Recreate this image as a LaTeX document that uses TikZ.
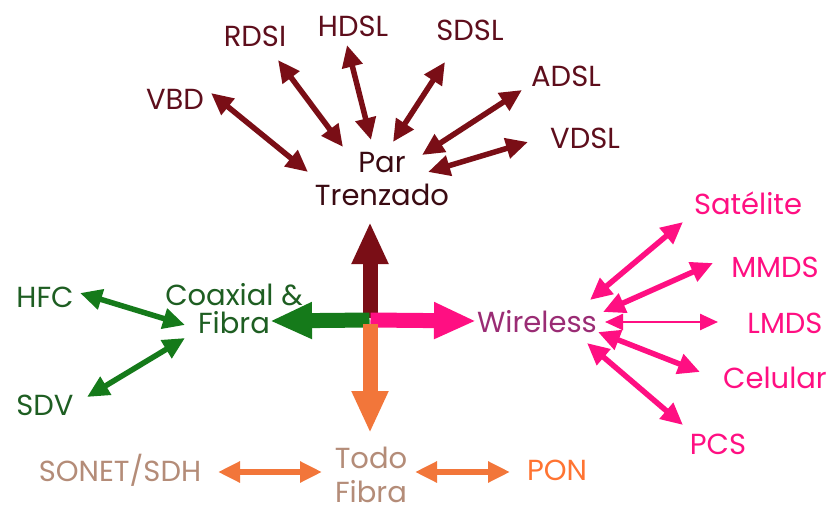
\documentclass[tikz,border=0pt]{standalone}
\usepackage{fontspec}
\setmainfont{Poppins}
\usetikzlibrary{arrows.meta}
\definecolor{maroon}{HTML}{7A0E16}
\definecolor{maroontxt}{HTML}{5E0E1C}
\definecolor{partxt}{HTML}{3A0A12}
\definecolor{grn}{HTML}{157A1A}
\definecolor{grntxt}{HTML}{1E5E22}
\definecolor{pnk}{HTML}{FF0F82}
\definecolor{wltxt}{HTML}{9A2C74}
\definecolor{org}{HTML}{F2763A}
\definecolor{orgtxt}{HTML}{B48C78}
\definecolor{pontxt}{HTML}{FF7432}
\tikzset{
  lbl/.style={inner sep=0pt, font=\fontsize{29}{33}\selectfont, align=center},
  thin arrow/.style={line width=5.5pt,
    {Triangle[length=22pt,width=20pt]}-{Triangle[length=22pt,width=20pt]}},
  hair arrow/.style={line width=2.5pt,
    {Triangle[length=18pt,width=16pt]}-{Triangle[length=18pt,width=16pt]}},
  big arrow/.style={line width=15pt, -{Triangle[length=42pt,width=34pt]}},
}
\begin{document}
\begin{tikzpicture}[x=1pt,y=-1pt]
\useasboundingbox[fill=white] (0,0) rectangle (831,514);

% --- twisted pair family ---
\node[lbl, text=partxt] (par) at (382,179) {Par\\Trenzado};
\node[lbl, text=maroontxt] (vbd)  at (175,99)  {VBD};
\node[lbl, text=maroontxt] (rdsi) at (255,36)  {RDSI};
\node[lbl, text=maroontxt] (hdsl) at (353,26)  {HDSL};
\node[lbl, text=maroontxt] (sdsl) at (470,30)  {SDSL};
\node[lbl, text=maroontxt] (adsl) at (566,76)  {ADSL};
\node[lbl, text=maroontxt] (vdsl) at (585,138) {VDSL};

\coordinate (vbd-a) at (211,93);  \coordinate (vbd-b) at (308,172);
\coordinate (rdsi-a) at (278,60); \coordinate (rdsi-b) at (343,147);
\coordinate (hdsl-a) at (347,45); \coordinate (hdsl-b) at (371,140);
\coordinate (sdsl-a) at (445,62); \coordinate (sdsl-b) at (393,142);
\coordinate (adsl-a) at (522,90); \coordinate (adsl-b) at (422,155);
\coordinate (vdsl-a) at (528,142); \coordinate (vdsl-b) at (428,172);
\foreach \n in {vbd,rdsi,hdsl,sdsl,adsl,vdsl}
  \draw[thin arrow, maroon] (\n-a) -- (\n-b);

% --- coaxial & fibre family ---
\node[lbl, text=grntxt, font=\fontsize{29}{28}\selectfont] (coax) at (234,309) {Coaxial \&\\Fibra};
\node[lbl, text=grntxt] (hfc) at (45,297) {HFC};
\node[lbl, text=grntxt] (sdv) at (45,405) {SDV};
\coordinate (hfc-a) at (80,293);  \coordinate (hfc-b) at (185,325);
\coordinate (sdv-a) at (87,397);  \coordinate (sdv-b) at (185,338);
\draw[thin arrow, grn] (hfc-a) -- (hfc-b);
\draw[thin arrow, grn] (sdv-a) -- (sdv-b);

% --- wireless family ---
\node[lbl, text=wltxt] (wl) at (537,322) {Wireless};
\node[lbl, text=pnk] (sat)  at (748,203) {Satélite};
\node[lbl, text=pnk] (mmds) at (775,267) {MMDS};
\node[lbl, text=pnk] (lmds) at (785,323) {LMDS};
\node[lbl, text=pnk] (cel)  at (775,378) {Celular};
\node[lbl, text=pnk] (pcs)  at (718,444) {PCS};
\coordinate (sat-a) at (590,300);  \coordinate (sat-b) at (683,222);
\coordinate (mmds-a) at (603,312); \coordinate (mmds-b) at (713,263);
\coordinate (lmds-a) at (605,322); \coordinate (lmds-b) at (718,322);
\coordinate (cel-a) at (598,332);  \coordinate (cel-b) at (700,372);
\coordinate (pcs-a) at (587,343);  \coordinate (pcs-b) at (683,425);
\draw[thin arrow, pnk] (sat-a) -- (sat-b);
\draw[thin arrow, pnk] (mmds-a) -- (mmds-b);
\draw[hair arrow, pnk] (lmds-a) -- (lmds-b);
\draw[thin arrow, pnk] (cel-a) -- (cel-b);
\draw[thin arrow, pnk] (pcs-a) -- (pcs-b);

% --- all-fibre family ---
\node[lbl, text=orgtxt, font=\fontsize{29}{34}\selectfont] (todo) at (371,475) {Todo\\Fibra};
\node[lbl, text=orgtxt] (sonet) at (120,470) {SONET/SDH};
\node[lbl, text=pontxt] (pon) at (557,470) {PON};
\coordinate (sonet-a) at (218,472); \coordinate (sonet-b) at (322,472);
\coordinate (pon-a) at (415,472);   \coordinate (pon-b) at (510,472);
\draw[thin arrow, org] (sonet-a) -- (sonet-b);
\draw[thin arrow, org] (pon-a) -- (pon-b);

% --- central cross ---
\coordinate (hub) at (370,320);
\coordinate (up) at (370,222);
\coordinate (left) at (270,321);
\coordinate (right) at (476,321);
\coordinate (down) at (370,433);
\draw[big arrow, maroon] ([yshift=2pt]hub) -- (up);
\draw[big arrow, grn] ([xshift=-0.5pt]hub) -- (left);
\draw[big arrow, pnk] ([xshift=0.5pt]hub) -- (right);
\draw[big arrow, org] ([yshift=-4pt]hub) -- (down);
\end{tikzpicture}
\end{document}
